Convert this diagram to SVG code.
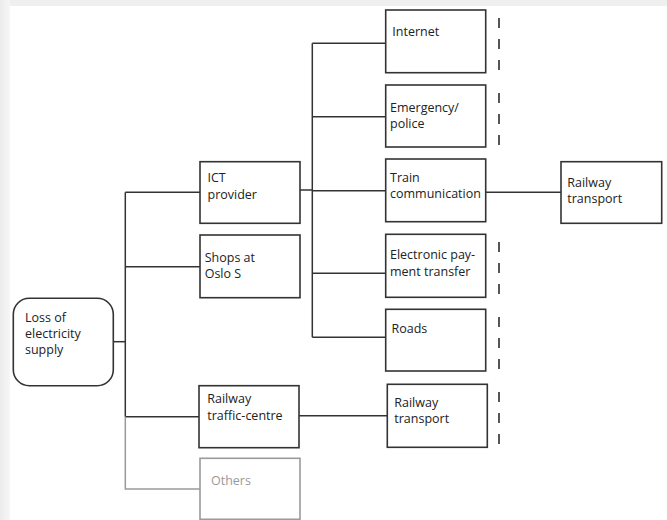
<svg xmlns="http://www.w3.org/2000/svg" width="667" height="520" viewBox="0 0 667 520">
  <defs>
    <linearGradient id="edgeLeft" x1="0" y1="0" x2="1" y2="0">
      <stop offset="0" stop-color="#ececec"/>
      <stop offset="1" stop-color="#f6f6f6"/>
    </linearGradient>
    <style>
      .box { fill: #fff; stroke: #333; stroke-width: 1.6; }
      .box-muted { fill: #fff; stroke: #9a9a9a; stroke-width: 1.6; }
      .link { fill: none; stroke: #333; stroke-width: 1.5; }
      .link-muted { fill: none; stroke: #9a9a9a; stroke-width: 1.5; }
      .boundary { fill: none; stroke: #444; stroke-width: 1.8; stroke-dasharray: 10 11; }
      .label { font-family: "Open Sans", "Noto Sans", "Liberation Sans", sans-serif; font-size: 12.5px; fill: #222; }
      .label-muted { font-family: "Open Sans", "Noto Sans", "Liberation Sans", sans-serif; font-size: 12.5px; fill: #999; }
    </style>
  </defs>

  <!-- page -->
  <rect x="0" y="0" width="667" height="520" fill="#fff"/>
  <rect x="0" y="0" width="667" height="6" fill="#efefef"/>
  <rect x="0" y="0" width="10" height="520" fill="url(#edgeLeft)"/>

  <!-- connectors -->
  <g id="connectors">
    <!-- first level -->
    <path class="link" d="M113 341.7 H125.3"/>
    <path class="link" d="M125.3 192.3 V416.7"/>
    <path class="link" d="M125.3 192.3 H200"/>
    <path class="link" d="M125.3 266.7 H200"/>
    <path class="link" d="M125.3 416.7 H199"/>
    <path class="link-muted" d="M125.3 416.7 V489 H200"/>
    <!-- ICT provider branches -->
    <path class="link" d="M300 190 H312.3"/>
    <path class="link" d="M312.3 43.3 V337.3"/>
    <path class="link" d="M312.3 43.3 H385.7"/>
    <path class="link" d="M312.3 116.7 H385.7"/>
    <path class="link" d="M312.3 190.7 H385.7"/>
    <path class="link" d="M312.3 273.3 H385.7"/>
    <path class="link" d="M312.3 337.3 H385.7"/>
    <!-- onward links -->
    <path class="link" d="M485.7 192.3 H561"/>
    <path class="link" d="M299 415.7 H387.3"/>
    <!-- open-ended boundaries -->
    <path class="boundary" d="M499 18 V73"/>
    <path class="boundary" d="M499 93 V148"/>
    <path class="boundary" d="M499 242 V297"/>
    <path class="boundary" d="M499 317 V372"/>
    <path class="boundary" d="M499 392 V447"/>
  </g>

  <g id="loss-of-electricity">
    <rect class="box" x="13.3" y="298.3" width="100" height="87.4" rx="16" ry="16"/>
    <text class="label" x="25" y="322">Loss of</text>
    <text class="label" x="25" y="338">electricity</text>
    <text class="label" x="25" y="354">supply</text>
  </g>

  <g id="ict-provider">
    <rect class="box" x="200" y="161.7" width="100" height="61.6"/>
    <text class="label" x="207.5" y="182.3">ICT</text>
    <text class="label" x="207.5" y="199">provider</text>
  </g>

  <g id="shops-oslo-s">
    <rect class="box" x="200" y="235" width="100" height="62.7"/>
    <text class="label" x="204.7" y="262.3">Shops at</text>
    <text class="label" x="204.7" y="278.3">Oslo S</text>
  </g>

  <g id="railway-traffic-centre">
    <rect class="box" x="199" y="385.7" width="100" height="62"/>
    <text class="label" x="207.3" y="403.3">Railway</text>
    <text class="label" x="207.3" y="420">traffic-centre</text>
  </g>

  <g id="others">
    <rect class="box-muted" x="200" y="458.3" width="100" height="61"/>
    <text class="label-muted" x="211" y="485">Others</text>
  </g>

  <g id="internet">
    <rect class="box" x="385.7" y="10" width="100" height="62.7"/>
    <text class="label" x="392.3" y="35.7">Internet</text>
  </g>

  <g id="emergency-police">
    <rect class="box" x="385.7" y="85" width="100" height="62"/>
    <text class="label" x="390" y="112.3">Emergency/</text>
    <text class="label" x="390" y="128">police</text>
  </g>

  <g id="train-communication">
    <rect class="box" x="385.7" y="159" width="100" height="62.7"/>
    <text class="label" x="390" y="182.3">Train</text>
    <text class="label" x="390" y="198.3">communication</text>
  </g>

  <g id="electronic-payment">
    <rect class="box" x="385.7" y="234.3" width="100" height="63"/>
    <text class="label" x="390" y="259.3">Electronic pay-</text>
    <text class="label" x="390" y="276">ment transfer</text>
  </g>

  <g id="roads">
    <rect class="box" x="385.7" y="309.3" width="100" height="61.7"/>
    <text class="label" x="391.5" y="333.3">Roads</text>
  </g>

  <g id="railway-transport-1">
    <rect class="box" x="387.3" y="384.3" width="100" height="63"/>
    <text class="label" x="394.3" y="406.7">Railway</text>
    <text class="label" x="394.3" y="423.3">transport</text>
  </g>

  <g id="railway-transport-2">
    <rect class="box" x="561" y="161.7" width="100.7" height="61.6"/>
    <text class="label" x="567.3" y="186.7">Railway</text>
    <text class="label" x="567.3" y="202.7">transport</text>
  </g>
</svg>
